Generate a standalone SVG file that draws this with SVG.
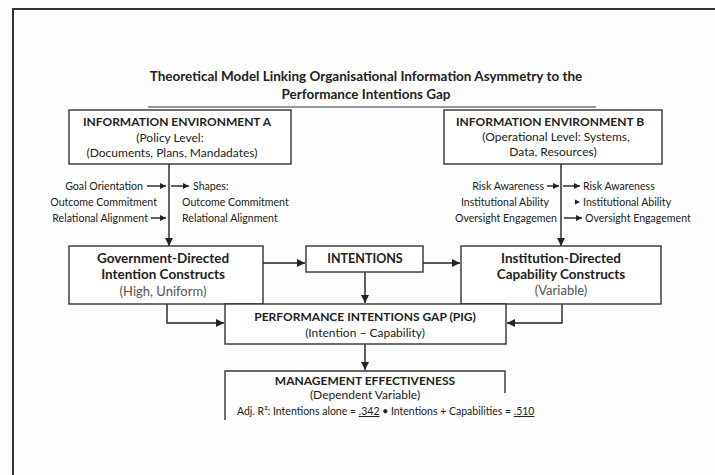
<svg xmlns="http://www.w3.org/2000/svg" width="715" height="475" viewBox="0 0 715 475">
<style>
text{font-family:Lato,"Open Sans","Liberation Sans",sans-serif;fill:#222}
.t{font-size:13.5px;font-weight:bold;text-anchor:middle}
.h{font-size:12px;font-weight:bold;text-anchor:middle}
.hm{font-size:13.5px;font-weight:bold;text-anchor:middle}
.r{font-size:12px;text-anchor:middle}
.g{font-size:13px;text-anchor:middle;fill:#555}
.l{font-size:10.6px}
.e{text-anchor:end}
.s{font-size:10.5px}
.box{fill:#fff;stroke:#333;stroke-width:1.4}
.c{fill:none;stroke:#222;stroke-width:1.4}
</style>
<defs>
<marker id="ah" viewBox="0 0 10 10" refX="10" refY="5" markerWidth="8" markerHeight="8" markerUnits="userSpaceOnUse" orient="auto">
<path d="M0 0L10 5L0 10z" fill="#222"/>
</marker>
<marker id="as" viewBox="0 0 10 10" refX="10" refY="5" markerWidth="6" markerHeight="6" markerUnits="userSpaceOnUse" orient="auto">
<path d="M0 0L10 5L0 10z" fill="#222"/>
</marker>
</defs>
<rect width="715" height="475" fill="#fdfdfd"/>
<path d="M13 475V9H715" fill="none" stroke="#333" stroke-width="2"/>
<g id="title">
<text class="t" x="366" y="81">Theoretical Model Linking Organisational Information Asymmetry to the</text>
<text class="t" x="366" y="99">Performance Intentions Gap</text>
<line x1="148" y1="107" x2="596" y2="107" stroke="#333" stroke-width="1.2"/>
</g>
<g id="connectors">
<line class="c" x1="169" y1="164" x2="169" y2="246" marker-end="url(#ah)"/>
<line class="c" x1="561" y1="164" x2="561" y2="246" marker-end="url(#ah)"/>
<line class="c" x1="263" y1="263" x2="305" y2="263" marker-end="url(#ah)"/>
<line class="c" x1="423" y1="263" x2="460" y2="263" marker-end="url(#ah)"/>
<line class="c" x1="365" y1="272" x2="365" y2="303" marker-end="url(#ah)"/>
<path class="c" d="M167 304V323H224" marker-end="url(#ah)"/>
<path class="c" d="M562 304V323H507" marker-end="url(#ah)"/>
<line class="c" x1="365" y1="344" x2="365" y2="370" marker-end="url(#ah)"/>
<line class="c" x1="147" y1="186" x2="166" y2="186" stroke-width="1.1" marker-end="url(#as)"/>
<line class="c" x1="151" y1="218" x2="166" y2="218" stroke-width="1.1" marker-end="url(#as)"/>
<line class="c" x1="171" y1="186" x2="189" y2="186" stroke-width="1.1" marker-end="url(#as)"/>
<line class="c" x1="547" y1="186" x2="559" y2="186" stroke-width="1.1" marker-end="url(#as)"/>
<line class="c" x1="563" y1="186" x2="580" y2="186" stroke-width="1.1" marker-end="url(#as)"/>
<path d="M575 199.5L580 202L575 204.5z" fill="#222"/>
<line class="c" x1="564" y1="218" x2="582" y2="218" stroke-width="1.1" marker-end="url(#as)"/>
</g>
<g id="labels-a">
<text class="l e" x="143" y="190">Goal Orientation</text>
<text class="l e" x="157" y="206">Outcome Commitment</text>
<text class="l e" x="148" y="222">Relational Alignment</text>
<text class="l" x="193" y="190">Shapes:</text>
<text class="l" x="182" y="206">Outcome Commitment</text>
<text class="l" x="182" y="222">Relational Alignment</text>
</g>
<g id="labels-b">
<text class="l e" x="544" y="190">Risk Awareness</text>
<text class="l e" x="549" y="206">Institutional Ability</text>
<text class="l e" x="557" y="222">Oversight Engagemen</text>
<text class="l" x="583" y="190">Risk Awareness</text>
<text class="l" x="583" y="206">Institutional Ability</text>
<text class="l" x="585" y="222">Oversight Engagement</text>
</g>
<g id="env-a">
<rect class="box" x="69" y="110" width="222" height="54"/>
<text class="h" x="177" y="126">INFORMATION ENVIRONMENT A</text>
<text class="r" x="170" y="142">(Policy Level:</text>
<text class="r" x="172" y="157">(Documents, Plans, Mandadates)</text>
</g>
<g id="env-b">
<rect class="box" x="444" y="110" width="218" height="54"/>
<text class="h" x="550" y="126">INFORMATION ENVIRONMENT B</text>
<text class="r" x="556" y="141">(Operational Level: Systems,</text>
<text class="r" x="553" y="156">Data, Resources)</text>
</g>
<g id="gov">
<rect class="box" x="69" y="246" width="194" height="58"/>
<text class="hm" x="163" y="263">Government-Directed</text>
<text class="hm" x="163" y="279">Intention Constructs</text>
<text class="g" x="163" y="296">(High, Uniform)</text>
</g>
<g id="intentions">
<rect class="box" x="306" y="246" width="117" height="26"/>
<text class="h" x="365" y="263" style="font-size:12.5px">INTENTIONS</text>
</g>
<g id="inst">
<rect class="box" x="461" y="246" width="200" height="58"/>
<text class="hm" x="561" y="263">Institution-Directed</text>
<text class="hm" x="561" y="279">Capability Constructs</text>
<text class="g" x="561" y="295">(Variable)</text>
</g>
<g id="pig">
<rect class="box" x="225" y="304" width="281" height="40"/>
<text class="h" x="365" y="321">PERFORMANCE INTENTIONS GAP (PIG)</text>
<text class="r" x="365" y="337">(Intention – Capability)</text>
</g>
<g id="me">
<path d="M225 420V371H505V393" fill="none" stroke="#333" stroke-width="1.4"/>
<text class="h" x="365" y="385">MANAGEMENT EFFECTIVENESS</text>
<text class="r" x="365" y="399">(Dependent Variable)</text>
<text class="s" x="237" y="415">Adj. R²: Intentions alone = <tspan text-decoration="underline">.342</tspan> • Intentions + Capabilities = <tspan text-decoration="underline">.510</tspan></text>
</g>
</svg>
